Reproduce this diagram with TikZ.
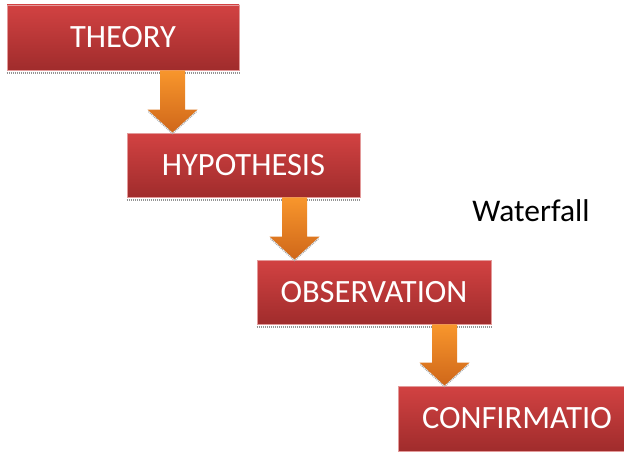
\documentclass[tikz,border=0pt]{standalone}
\usepackage{fontspec}
\setmainfont{Carlito}
\usetikzlibrary{calc}
\definecolor{boxtop}{HTML}{D24242}
\definecolor{boxbot}{HTML}{A02C2C}
\definecolor{boxedge}{HTML}{E39A9A}
\definecolor{arrtop}{HTML}{F8962C}
\definecolor{arrbot}{HTML}{CF671A}
\tikzset{
  stepbox/.style={rectangle, draw=boxedge, line width=0.8pt, top color=boxtop, bottom color=boxbot,
    text=white, font=\fontsize{32.5}{38}\selectfont, inner sep=0pt},
  shadowline/.style={draw=gray!85, line width=2.5pt, dash pattern=on 1pt off 1pt},
  fatarrow/.style={top color=arrtop, bottom color=arrbot, draw=none},
}
\newcommand\fatdown[3]{%
  \path[fatarrow] let \p1=(#1.south), \p2=(#2.north) in
    (#3pt-12.5pt,\y1) -- (#3pt+12.5pt,\y1) -- (#3pt+12.5pt,\y2+23pt) -- (#3pt+25pt,\y2+23pt)
    -- (#3pt,\y2) -- (#3pt-25pt,\y2+23pt) -- (#3pt-12.5pt,\y2+23pt) -- cycle;
  \draw[gray!70, line width=1.2pt, dash pattern=on 1pt off 1pt] let \p2=(#2.north) in
    (#3pt-24pt,\y2+21pt) -- (#3pt,\y2-1pt) -- (#3pt+24pt,\y2+21pt);
}
\begin{document}
\begin{tikzpicture}[x=1pt,y=-1pt]
\useasboundingbox (0,0) rectangle (624,452);
\clip (0,0) rectangle (624,452);
\fill[white] (0,0) rectangle (624,452);

\node[stepbox, minimum width=232pt, minimum height=65pt] (t) at (123,37.5) {THEORY};
\node[stepbox, minimum width=233pt, minimum height=64pt] (h) at (243.5,165) {HYPOTHESIS};
\node[stepbox, minimum width=234pt, minimum height=64pt] (o) at (374,292) {OBSERVATION};
\node[stepbox, minimum width=233pt, minimum height=65pt, text width=233pt, align=left] (c) at (514.5,418.5) {\hspace{24pt}CONFIRMATIO};

\foreach \b in {t,h,o} {
  \draw[shadowline] ([yshift=-2.5pt]\b.south west) -- ([yshift=-2.5pt]\b.south east);
}

\fatdown{t}{h}{172.5}
\fatdown{h}{o}{294.5}
\fatdown{o}{c}{444.5}

\node[font=\fontsize{31.5}{36}\selectfont, text=black] (w) at (531,211) {Waterfall};
\end{tikzpicture}
\end{document}
